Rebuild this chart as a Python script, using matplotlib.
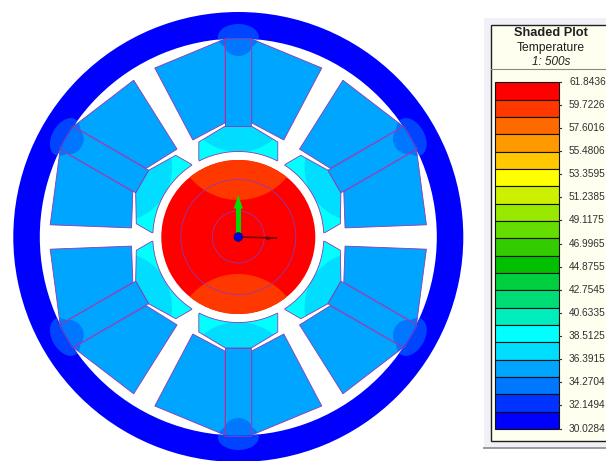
import matplotlib
matplotlib.use("Agg")
import matplotlib.pyplot as plt
import numpy as np
from matplotlib.patches import Circle, Ellipse, Polygon, Rectangle, Wedge

plt.rcParams["font.family"] = ["Liberation Sans", "DejaVu Sans"]

# legend contents
legend_title = "Shaded Plot"
legend_quantity = "Temperature"
legend_step = "1: 500s"
tick_labels = ["61.8436", "59.7226", "57.6016", "55.4806", "53.3595", "51.2385",
               "49.1175", "46.9965", "44.8755", "42.7545", "40.6335", "38.5125",
               "36.3915", "34.2704", "32.1494", "30.0284"]
band_colors = ["#ff0000", "#ff3800", "#ff6a00", "#ff9900", "#ffc800", "#ffff00",
               "#ccf000", "#99e800", "#66dd00", "#33cc00", "#00c000", "#00d040",
               "#00dd77", "#00eebb", "#00ffff", "#00ddff", "#00a5ff", "#0077ff",
               "#0033ff", "#0000ff"]

# model, pole at 12 o'clock in local coordinates (y up from the shaft)
pole_angles = [0, 60, 120, 180, 240, 300]
coil_left = [(-13.5, 198), (-83.5, 169), (-45.5, 97), (-13.5, 114)]
tooth = [(-13, 111), (-13, 199), (13, 199), (13, 111)]
shoe_side = [(-13, 111), (-39.5, 95), (-39.5, 77)]
shoe_arc_radius = 85.5

ring_outer = 225
ring_inner = 198.5
rotor_radius = 77
rotor_circles = [57.5, 26]
rotor_lens = (100, 63)
shoe_lens = (140, 55)

cx, cy = 238.3, 237.0
edge = "#9038b0"


def to_px(points, angle=0):
    pts = np.asarray(points, dtype=float)
    a = np.radians(angle)
    x = pts[:, 0] * np.cos(a) - pts[:, 1] * np.sin(a)
    y = pts[:, 0] * np.sin(a) + pts[:, 1] * np.cos(a)
    return np.column_stack([cx + x, cy - y])


def radial_center(dist, angle):
    return to_px([(0, dist)], angle)[0]


def shoe_outline():
    half = np.arctan2(39.5, 77)
    t = np.linspace(-half, half, 30)
    arc = [(shoe_arc_radius * np.sin(v), shoe_arc_radius * np.cos(v)) for v in t]
    right = [(-x, y) for x, y in reversed(shoe_side)]
    return shoe_side + arc + right


fig = plt.figure(figsize=(6.06, 4.61), dpi=100)
ax = fig.add_axes([0, 0, 1, 1])
ax.set_xlim(0, 606)
ax.set_ylim(461, 0)
ax.axis("off")

# housing ring
ring = Wedge((cx, cy), ring_outer, 0, 360, width=ring_outer - ring_inner,
             facecolor="#0000ff", edgecolor="none", zorder=1)
ax.add_patch(ring)

for ang in pole_angles:
    shoe = Polygon(to_px(shoe_outline(), ang), closed=True, facecolor="#00ffff",
                   edgecolor="none", zorder=2)
    ax.add_patch(shoe)
    lens = Circle(radial_center(shoe_lens[0], ang), shoe_lens[1], facecolor="#00ddff",
                  edgecolor="none", zorder=3)
    ax.add_patch(lens)
    lens.set_clip_path(shoe)
    ax.add_patch(Polygon(to_px(shoe_outline(), ang), closed=True, facecolor="none",
                         edgecolor=edge, linewidth=0.6, zorder=3))

    parts = [coil_left, [(-x, y) for x, y in coil_left], tooth]
    for part in parts:
        poly = Polygon(to_px(part, ang), closed=True, facecolor="#00a5ff",
                       edgecolor="none", zorder=4)
        ax.add_patch(poly)
        # cooler spot where the pole meets the housing
        blob = Ellipse(radial_center(200, ang), 41, 26, angle=-ang,
                       facecolor="#0077ff", edgecolor="none", zorder=5)
        ax.add_patch(blob)
        blob.set_clip_path(poly)
        lump = Ellipse(radial_center(193, ang), 28, 24, angle=-ang,
                       facecolor="#0077ff", edgecolor="none", zorder=5)
        ax.add_patch(lump)
        lump.set_clip_path(poly)
        ax.add_patch(Polygon(to_px(part, ang), closed=True, facecolor="none",
                             edgecolor=edge, linewidth=0.6, zorder=6))

    ring_blob = Ellipse(radial_center(200, ang), 41, 26, angle=-ang,
                        facecolor="#0044ff", edgecolor="none", zorder=5)
    ax.add_patch(ring_blob)
    ring_blob.set_clip_path(ring)

# rotor
rotor = Circle((cx, cy), rotor_radius, facecolor="#ff0000", edgecolor="none", zorder=7)
ax.add_patch(rotor)
for ang in (0, 180):
    spot = Circle(radial_center(rotor_lens[0], ang), rotor_lens[1],
                  facecolor="#ff3800", edgecolor="none", zorder=8)
    ax.add_patch(spot)
    spot.set_clip_path(rotor)
for r in rotor_circles:
    ax.add_patch(Circle((cx, cy), r, facecolor="none", edgecolor=edge,
                        linewidth=0.6, zorder=9))

# triad
ax.plot([cx, cx + 38], [cy, cy + 1], color="#7a0000", linewidth=1.2, zorder=10)
ax.add_patch(Polygon([(cx + 39, cy + 1), (cx + 28, cy - 0.5), (cx + 28, cy + 3)],
                     closed=True, facecolor="#7a0000", edgecolor="none", zorder=10))
ax.add_patch(Rectangle((cx - 2.2, cy - 29), 4.4, 29, facecolor="#00d800",
                       edgecolor="none", zorder=11))
ax.add_patch(Polygon([(cx, cy - 42), (cx - 4.5, cy - 28.5), (cx + 4.5, cy - 28.5)],
                     closed=True, facecolor="#00e000", edgecolor="none", zorder=11))
ax.add_patch(Circle((cx, cy), 4.3, facecolor="#0000e0", edgecolor="#000080",
                    linewidth=0.6, zorder=12))

# legend panel
ax.add_patch(Rectangle((484, 18), 130, 429, facecolor="#f0f0f6", edgecolor="none", zorder=1))
ax.plot([484, 606], [447.5, 447.5], color="#9a9a9a", linewidth=1.4, zorder=2)
ax.add_patch(Rectangle((490.5, 25), 130, 416, facecolor="#fffff0", edgecolor="#202020",
                       linewidth=1.0, zorder=2))
ax.plot([490.5, 606], [69, 69], color="#8a8a80", linewidth=0.8, zorder=3)

ax.text(551, 33.5, legend_title, fontsize=9.2, fontweight="bold", color="#202020",
        ha="center", va="center", zorder=4)
ax.text(551, 48, legend_quantity, fontsize=8.7, color="#202020", ha="center",
        va="center", zorder=4)
ax.text(551, 62, legend_step, fontsize=8.5, style="italic", color="#202020",
        ha="center", va="center", zorder=4)

bar_x, bar_w = 495.3, 63.7
bar_top, bar_bottom = 82.3, 429.0
band_h = (bar_bottom - bar_top) / len(band_colors)
for i, color in enumerate(band_colors):
    ax.add_patch(Rectangle((bar_x, bar_top + i * band_h), bar_w, band_h, facecolor=color,
                           edgecolor="#101010", linewidth=0.8, zorder=4))
tick_ys = np.linspace(bar_top - 0.5, bar_bottom - 0.5, len(tick_labels))
for y, label in zip(tick_ys, tick_labels):
    ax.plot([bar_x + bar_w, bar_x + bar_w + 2], [y, y], color="#303030", linewidth=0.8, zorder=4)
    ax.text(569, y, label, fontsize=7.3, color="#303030", ha="left", va="center", zorder=4)

fig.savefig("out.png", dpi=100)
plt.close(fig)
